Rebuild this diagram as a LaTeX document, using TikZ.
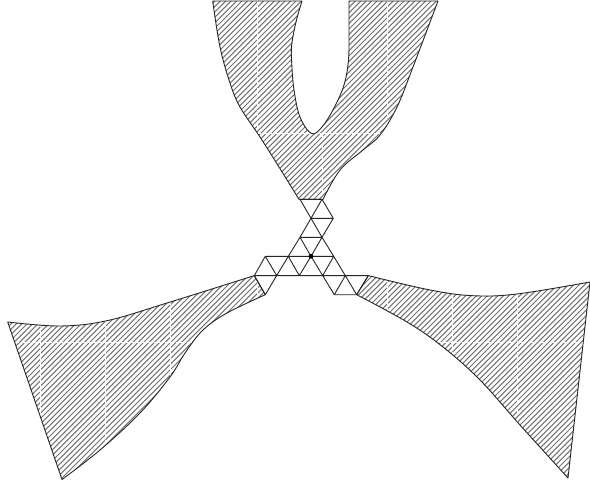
\documentclass[tikz,border=0pt]{standalone}
\begin{document}
\begin{tikzpicture}[x=1pt,y=-1pt,
  mesh/.style={line width=0.9pt,black!85,line join=round},
  outline/.style={line width=0.9pt,black!85,line join=round},
  hatch/.style={line width=1pt,black!55},
  seam/.style={line width=0.22pt,white,dash pattern=on 8pt off 3pt}]
\useasboundingbox (0,0) rectangle (590,485);
\fill[white] (0,0) rectangle (590,485);
\def\topshape{(212.7,1) -- (302,1) -- plot[smooth,tension=0.6] coordinates {(302,1) (296,22) (291.7,45) (291.7,63) (294,90) (300,117) (311.5,133.5) (322,127) (334,108) (344,85) (348.5,60) (349,30) (349,1)} -- (438,1) -- plot[smooth,tension=0.6] coordinates {(438,1) (413,67) (397,107) (380,135) (363,150) (340,170) (323,199.3)} -- (299,199.3) -- plot[smooth,tension=0.6] coordinates {(299,199.3) (279,167) (260,137) (240,107) (230,83) (220,47) (212.7,1)} -- cycle}
\def\leftshape{(7.7,322) -- plot[smooth,tension=0.6] coordinates {(7.7,322) (60,326) (107,320.7) (167,303) (254.3,275.6)} -- (265.3,294.7) -- plot[smooth,tension=0.6] coordinates {(265.3,294.7) (227,313) (203,330) (185,353) (170,377) (140,413) (100,450) (62,479.5)} -- cycle}
\def\rightshape{(368.3,275.6) -- plot[smooth,tension=0.6] coordinates {(368.3,275.6) (430,290) (473,295.7) (517,294) (590,282)} -- (568,478) -- plot[smooth,tension=0.6] coordinates {(568,478) (520,425) (480,380) (443,347) (407,322) (356.7,294.7)} -- cycle}
\foreach \shp in {\topshape,\leftshape,\rightshape}{
  \begin{scope}
    \clip \shp;
    \foreach \k in {0,5.4,...,1100}{
      \draw[hatch] (\k,0) -- (\k-500,500);
    }
    \foreach \sx in {40,105,170,257,322,387,452,517}{
      \draw[seam] (\sx,0) -- (\sx,485);
    }
    \draw[seam] (0,133) -- (590,133);
    \draw[seam] (0,342) -- (590,342);
  \end{scope}
  \draw[outline] \shp;
}
% mesh vertices
\coordinate (a1) at (300,199.3); \coordinate (a2) at (322,199.3);
\coordinate (b1) at (311,218.3); \coordinate (b2) at (333.3,218.3);
\coordinate (c1) at (300,237.3); \coordinate (c2) at (322,237.3);
\coordinate (d1) at (265.3,256.3); \coordinate (d2) at (288.3,256.3); \coordinate (d3) at (311,256.3); \coordinate (d4) at (333.7,256.3);
\coordinate (e1) at (254.3,275.6); \coordinate (e2) at (276.7,275.6); \coordinate (e3) at (299.3,275.6); \coordinate (e4) at (322.7,275.6); \coordinate (e5) at (345.3,275.6); \coordinate (e6) at (368.3,275.6);
\coordinate (f1) at (265.3,294.7); \coordinate (f2) at (334.3,294.7); \coordinate (f3) at (356.7,294.7);
\draw[mesh] (a1)--(a2) (a1)--(b1) (a2)--(b1) (a2)--(b2) (b1)--(b2)
  (b1)--(c1) (b1)--(c2) (b2)--(c2) (c1)--(c2)
  (c1)--(d3) (c2)--(d3) (c1)--(d2) (c2)--(d4)
  (d1)--(d4) (e1)--(e6)
  (d1)--(e1) (d1)--(e2) (d2)--(e2) (d2)--(e3) (d3)--(e3) (d3)--(e4) (d4)--(e4) (d4)--(e5)
  (e1)--(f1) (e2)--(f1) (e4)--(f2) (e5)--(f2) (e5)--(f3) (e6)--(f3) (f2)--(f3);
\fill[black] (d3) circle (2.4pt);
\end{tikzpicture}
\end{document}
